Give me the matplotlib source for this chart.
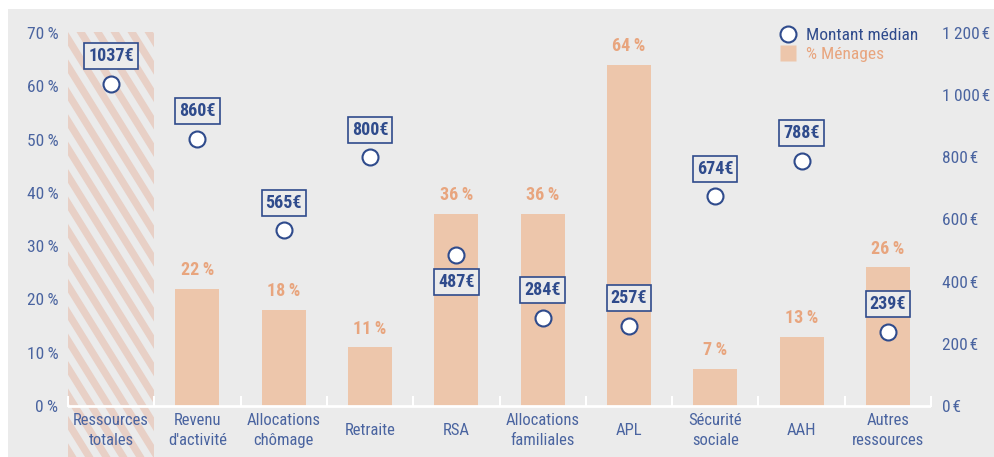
import matplotlib.pyplot as plt
import matplotlib.patches as mpatches
from matplotlib.lines import Line2D

plt.rcParams['font.family'] = ['Roboto Condensed', 'Liberation Sans Narrow', 'Liberation Sans', 'DejaVu Sans']

# data
categories = ["Ressources\ntotales", "Revenu\nd'activité", "Allocations\nchômage", "Retraite", "RSA",
              "Allocations\nfamiliales", "APL", "Sécurité\nsociale", "AAH", "Autres\nressources"]
pct_menages = [None, 22, 18, 11, 36, 36, 64, 7, 13, 26]
montant_median = [1037, 860, 565, 800, 487, 284, 257, 674, 788, 239]
pct_ticks = [0, 10, 20, 30, 40, 50, 60, 70]
eur_ticks = [0, 200, 400, 600, 800, 1000, 1200]
labels_below = ["RSA"]

NAVY = "#2F4B8C"
TICK = "#4A64A0"
BAR = "#EDC6AB"
PCTTXT = "#E8A57E"
BG = "#EBEBEB"
HATCH = "#E8D0C6"

fig = plt.figure(figsize=(9.95, 4.57), dpi=100)
fig.patches.append(mpatches.Rectangle((8 / 995, 0), 1, (457 - 9) / 457, transform=fig.transFigure,
                                      facecolor=BG, edgecolor="none", zorder=-10))

# striped background of the "total" column (drawn in pixel units)
hx = fig.add_axes([68 / 995, 0, 86 / 995, (457 - 32) / 457], zorder=0)
hx.set_xlim(0, 86)
hx.set_ylim(0, 425)
hx.axis("off")
slope = 0.62
period, band = 17, 8.5
c = -425 * slope - period
while c < 86:
    hx.add_patch(mpatches.Polygon([(c, 425), (c + band, 425), (c + band + 425 * slope, 0), (c + 425 * slope, 0)],
                                  closed=True, facecolor=HATCH, edgecolor="none"))
    c += period

ax = fig.add_axes([68 / 995, 0, (931 - 68) / 995, (457 - 32) / 457], zorder=1)
ax.set_facecolor("none")
ymin, ymax = -9.57, 70.18
ax.set_ylim(ymin, ymax)
ax.set_xlim(-0.5, len(categories) - 0.5)
for s in ax.spines.values():
    s.set_visible(False)

# bars
for i, v in enumerate(pct_menages):
    if v is None:
        continue
    ax.bar(i, v, width=0.51, color=BAR, zorder=1)
    ax.annotate(f"{v}\u2009%", (i, v), xytext=(0, 7), textcoords="offset points", ha="center", va="bottom",
                color=PCTTXT, fontsize=13, fontweight="bold")

# baseline with separators
ax.axhline(0, color="white", lw=2, zorder=2)
for i in range(len(categories) + 1):
    ax.plot([i - 0.5, i - 0.5], [0, 1.6], color="white", lw=1.5, zorder=2, clip_on=False)

ax.set_yticks(pct_ticks)
ax.set_yticklabels([f"{t}\u2009%" for t in pct_ticks])
ax.tick_params(axis="y", length=0, pad=7, labelsize=12.5, labelcolor=TICK)
ax.set_xticks([])
for i, c in enumerate(categories):
    ax.text(i, -4.6, c, ha="center", va="center", fontsize=12, color=TICK, linespacing=1.4)

# right axis: median amount
ax2 = ax.twinx()
ax2.set_ylim(ymin * 1200 / 70, ymax * 1200 / 70)
for s in ax2.spines.values():
    s.set_visible(False)
ax2.set_yticks(eur_ticks)
ax2.set_yticklabels([f"{t:,}\u200a€".replace(",", "\u2009") for t in eur_ticks])
ax2.tick_params(axis="y", length=0, pad=8, labelsize=12.5, labelcolor=TICK)

ax2.plot(range(len(categories)), montant_median, linestyle="none", marker="o", markersize=11.5,
         markerfacecolor="white", markeredgecolor=NAVY, markeredgewidth=1.5, zorder=5)
for i, (c, m) in enumerate(zip(categories, montant_median)):
    dy = -20 if c in labels_below else 20
    ax2.annotate(f"{m}€", (i, m), xytext=(0, dy), textcoords="offset points", ha="center",
                 va="center", color=NAVY, fontsize=13, fontweight="bold",
                 bbox=dict(boxstyle="square,pad=0.22", facecolor=BG, edgecolor=NAVY, lw=1.2))

# legend
handles = [Line2D([], [], linestyle="none", marker="o", markersize=11.5, markerfacecolor="white",
                  markeredgecolor=NAVY, markeredgewidth=1.5),
           Line2D([], [], linestyle="none", marker="s", markersize=12, markerfacecolor=BAR,
                  markeredgecolor="none")]
leg = fig.legend(handles, ["Montant médian", "% Ménages"], loc="upper left",
                 bbox_to_anchor=(771 / 995, 1 - 19 / 457), frameon=False, fontsize=12.5,
                 handlelength=1.0, handletextpad=0.5, labelspacing=0.25, borderpad=0)
leg.get_texts()[0].set_color(NAVY)
leg.get_texts()[1].set_color(PCTTXT)

fig.savefig("out.png", dpi=100)
